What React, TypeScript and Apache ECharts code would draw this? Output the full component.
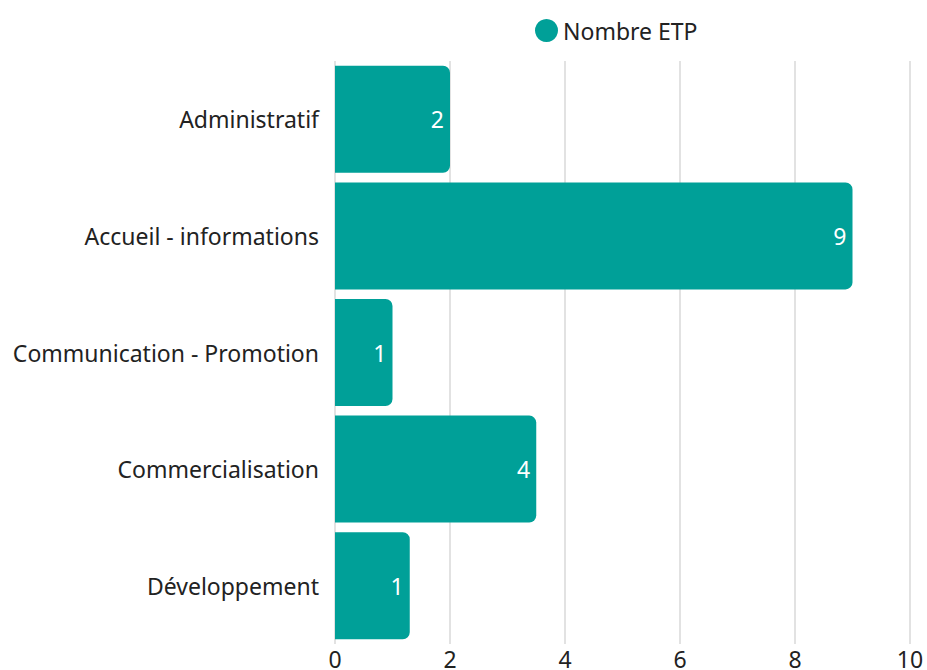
import React, { useEffect, useRef } from "react";
import * as echarts from "echarts";

const categories = ["Administratif", "Accueil - informations", "Communication - Promotion", "Commercialisation", "Développement"];
const values = [2, 9, 1, 3.5, 1.3];
const seriesName = "Nombre ETP";
const xTicks = { min: 0, max: 10, interval: 2 };

export default function App() {
  const ref = useRef<HTMLDivElement>(null);
  useEffect(() => {
    if (!ref.current) return;
    const chart = echarts.init(ref.current, null, { renderer: "svg" });
    const font = "'Noto Sans', sans-serif";
    chart.setOption({
      animation: false,
      textStyle: { fontFamily: font },
      legend: {
        top: 14,
        left: 530,
        itemWidth: 23,
        itemHeight: 23,
        icon: "circle",
        itemGap: 10,
        textStyle: { fontSize: 23, color: "#222", fontFamily: font },
        data: [seriesName],
      },
      grid: { left: 335, right: 17, top: 61, height: 584, containLabel: false },
      xAxis: {
        type: "value",
        min: xTicks.min,
        max: xTicks.max,
        interval: xTicks.interval,
        axisLine: { show: false },
        axisTick: { show: false },
        splitLine: { show: true, lineStyle: { color: "#d9d9d9", width: 1.5 } },
        axisLabel: { fontSize: 23, color: "#222", margin: 3, fontFamily: font },
      },
      yAxis: {
        type: "category",
        inverse: true,
        data: categories,
        axisLine: { show: false },
        axisTick: { show: false },
        axisLabel: { fontSize: 23, color: "#222", margin: 16, fontFamily: font },
      },
      series: [
        {
          name: seriesName,
          type: "bar",
          data: values,
          barWidth: 107,
          itemStyle: { color: "#00A098", borderRadius: [0, 7, 7, 0] },
          label: {
            show: true,
            position: "insideRight",
            color: "#fff",
            fontSize: 23,
            fontFamily: font,
            distance: 6,
            formatter: (p: any) => String(Math.round(p.value)),
          },
        },
      ],
    });
    return () => chart.dispose();
  }, []);
  return <div ref={ref} style={{ width: 927, height: 670, position: "absolute", left: 0, top: 0 }} />;
}
